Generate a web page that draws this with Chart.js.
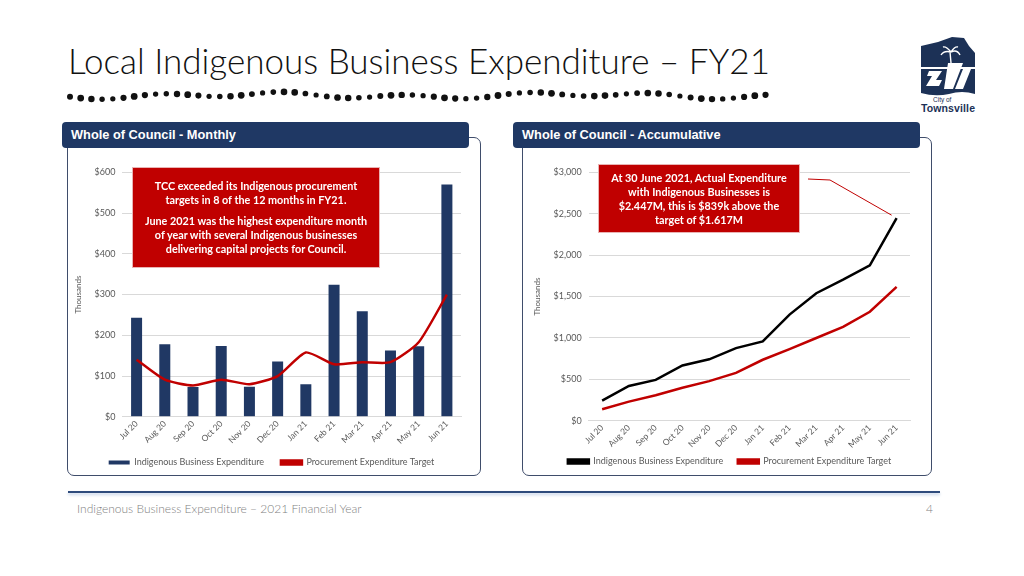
<!DOCTYPE html>
<html>
<head>
<meta charset="utf-8">
<script src="https://cdn.jsdelivr.net/npm/chart.js@4.4.0/dist/chart.umd.min.js"></script>
<style>
  body { margin:0; width:1024px; height:576px; background:#fff; position:relative; overflow:hidden; font-family:Lato, "Open Sans", sans-serif; }
  .abs { position:absolute; }
  #title { left:68px; top:39px; font-weight:300; color:#111; white-space:nowrap; }
  .panel { border:1.3px solid #3f4d6b; border-radius:7px; }
  .head { background:#1f3864; border-radius:4px; color:#fff; font:bold 12.8px "Liberation Sans", Arial, sans-serif; line-height:26px; padding-left:9px; box-sizing:border-box; height:26px; }
  .note { background:#c00000; color:#fff; font-weight:bold; font-size:10.8px; line-height:14px; text-align:center; box-sizing:border-box; box-shadow:0 0 0 1px #e9b3b3; white-space:nowrap; }
  #footline { left:68px; top:491px; width:872px; height:2px; background:#2f4b7c; box-shadow:0 2px 3px rgba(120,150,200,0.45); }
  .foot { top:501px; font-size:12px; color:#7f7f7f; font-weight:300; }
</style>
</head>
<body>
<div id="title" class="abs">Local Indigenous Business Expenditure – FY21</div>
<svg id="dots" class="abs" style="left:0;top:0" width="1024" height="120"></svg>

<svg class="abs" style="left:910px;top:30px" width="80" height="90" viewBox="910 30 80 90">
  <path d="M921,46 L938,42 L952,37 L964,38 L969,46 L975,53 L975,94 Q962,90 949,94 Q935,97 921,93 Z" fill="#1c3156"/>
  <rect x="921" y="67" width="54" height="2" fill="#fff"/>
  <path d="M929,71 L942,71 L936,80 L942,80 L939,86 L926,86 L932,76 L927,76 Z" fill="#fff"/>
  <path d="M948,63 L963,63 L953,89 L944,89 Z" fill="#fff"/>
  <path d="M963,69 L971,69 L963,89 L955,89 Z" fill="#fff"/>
  <path d="M950,52 L951,63 M951,52 Q944,50 941,55 M951,52 Q957,49 960,55 M951,52 Q946,46 943,47 M951,52 Q955,46 958,47" stroke="#fff" stroke-width="1.4" fill="none"/>
  <text x="933" y="102" font-family="Liberation Sans, Arial" font-size="6.5" fill="#1c3156">City of</text>
  <text x="921" y="112" font-family="Liberation Sans, Arial" font-size="10.5" font-weight="bold" fill="#1c3156" textLength="54">Townsville</text>
</svg>

<div class="abs panel" style="left:67px;top:137px;width:412px;height:337px"></div>
<div class="abs panel" style="left:522px;top:137px;width:408px;height:337px"></div>
<div class="abs head" style="left:62px;top:122px;width:407px">Whole of Council - Monthly</div>
<div class="abs head" style="left:513px;top:122px;width:407px">Whole of Council - Accumulative</div>

<div class="abs" style="left:66px;top:160px;width:420px;height:320px"><canvas id="monthly" width="420" height="320"></canvas></div>
<div class="abs" style="left:525px;top:160px;width:420px;height:324px"><canvas id="accum" width="420" height="324"></canvas></div>

<div id="note1" class="abs note" style="left:133px;top:168px;width:246px;height:99px;padding-top:11px">
  TCC exceeded its Indigenous procurement<br>targets in 8 of the 12 months in FY21.
  <div style="height:7px"></div>
  June 2021 was the highest expenditure month<br>of year with several Indigenous businesses<br>delivering capital projects for Council.
</div>
<div id="note2" class="abs note" style="left:599px;top:165px;width:200px;height:67px;padding-top:6px">
  At 30 June 2021, Actual Expenditure<br>with Indigenous Businesses is<br>$2.447M, this is $839k above the<br>target of $1.617M
</div>

<div id="footline" class="abs"></div>
<div class="abs foot" style="left:77px">Indigenous Business Expenditure – 2021 Financial Year</div>
<div class="abs foot" style="left:926px">4</div>

<script>
// data ($ thousands)
var months = ['Jul 20','Aug 20','Sep 20','Oct 20','Nov 20','Dec 20','Jan 21','Feb 21','Mar 21','Apr 21','May 21','Jun 21'];
var monthlyActual = [243, 178, 73, 174, 74, 136, 80, 324, 259, 163, 173, 570];
var monthlyTarget = [140, 91, 77, 91, 80, 100, 158, 129, 134, 134, 183, 300];
var accumActual = [243, 421, 494, 668, 742, 878, 958, 1282, 1541, 1704, 1877, 2447];
var accumTarget = [140, 231, 308, 399, 479, 579, 737, 866, 1000, 1134, 1317, 1617];
var seriesNames = ['Indigenous Business Expenditure', 'Procurement Expenditure Target'];

var navy = '#203864';
var red = '#c00000';
var grey = '#595959';
var gridCol = '#d9d9d9';

// title sized to the slide width
(function() {
    var t = document.getElementById('title');
    var c = document.createElement('canvas').getContext('2d');
    c.font = '300 40px Lato';
    var w = c.measureText(t.textContent).width;
    t.style.fontSize = (40 * 702 / w).toFixed(1) + 'px';
})();

// dotted underline
(function() {
    var svg = document.getElementById('dots');
    var html = '';
    for (var i = 0; i < 66; i++) {
        var x = 70 + i * 10.7;
        var y = 95.5 + 2.2 * Math.sin(i * 0.55) + 1.6 * Math.sin(i * 0.21 + 1);
        var r = 3 + 0.4 * Math.sin(i * 1.3);
        html += '<circle cx="' + x.toFixed(1) + '" cy="' + y.toFixed(1) + '" r="' + r.toFixed(2) + '" fill="#111"/>';
    }
    svg.innerHTML = html;
})();

Chart.defaults.font.family = 'Lato, "Open Sans", sans-serif';
Chart.defaults.font.size = 8;
Chart.defaults.color = grey;
Chart.defaults.animation = false;

function dollars(v) { return '$' + v.toLocaleString('en-US'); }

// nudge the legend box after layout
var legendShift = {
    id: 'legendShift',
    afterLayout: function(chart, args, opts) {
        var lg = chart.legend;
        lg.left += opts.dx || 0; lg.right += opts.dx || 0;
        lg.top += opts.dy || 0; lg.bottom += opts.dy || 0;
    }
};

function baseOptions(max, step, gapSpaces, dx, dy) {
    return {
        responsive: false,
        layout: { padding: { top: 11, right: 25, left: 4, bottom: 3 } },
        plugins: {
            legendShift: { dx: dx, dy: dy },
            legend: {
                position: 'bottom',
                labels: {
                    boxWidth: 21, boxHeight: 4, padding: 10, color: grey, font: { size: 9 },
                    sort: function(a, b) { return a.datasetIndex - b.datasetIndex; },
                    generateLabels: function(chart) {
                        var items = Chart.defaults.plugins.legend.labels.generateLabels(chart);
                        items.forEach(function(it) {
                            if (it.datasetIndex === 0) it.text = it.text + gapSpaces;
                        });
                        return items;
                    }
                }
            },
            tooltip: { enabled: false }
        },
        scales: {
            x: {
                grid: { display: false, drawTicks: false },
                border: { color: gridCol },
                ticks: { maxRotation: 45, minRotation: 45, padding: 2, color: grey, font: { size: 8.5 } }
            },
            y: {
                min: 0, max: max,
                grid: { color: gridCol, drawTicks: false },
                border: { display: false },
                ticks: { stepSize: step, padding: 7, color: grey, font: { size: 9 }, callback: dollars },
                title: { display: true, text: 'Thousands', color: grey, font: { size: 8 } }
            }
        }
    };
}

new Chart(document.getElementById('monthly'), {
    type: 'bar',
    data: {
        labels: months,
        datasets: [{
            label: seriesNames[0],
            data: monthlyActual,
            backgroundColor: navy,
            borderColor: navy,
            barPercentage: 0.39,
            categoryPercentage: 1,
            order: 1
        }, {
            type: 'line',
            label: seriesNames[1],
            data: monthlyTarget,
            borderColor: red,
            backgroundColor: red,
            borderWidth: 2.5,
            pointRadius: 0,
            tension: 0.2,
            order: 0
        }]
    },
    options: baseOptions(600, 100, '   ', 6, 0),
    plugins: [legendShift]
});

// thin callout from the note box to the last actual point
var calloutPlugin = {
    id: 'callout',
    afterDatasetsDraw: function(chart) {
        var pt = chart.getDatasetMeta(0).data[11];
        var box = document.getElementById('note2').getBoundingClientRect();
        var cv = chart.canvas.getBoundingClientRect();
        var sx = box.right - cv.left + 9, sy = box.top - cv.top + 14;
        var ctx = chart.ctx;
        ctx.save();
        ctx.strokeStyle = red;
        ctx.lineWidth = 1;
        ctx.beginPath();
        ctx.moveTo(sx, sy);
        ctx.lineTo(sx + 22, sy + 1);
        ctx.lineTo(pt.x - 5, pt.y - 3);
        ctx.stroke();
        ctx.restore();
    }
};

var accumOptions = baseOptions(3000, 500, '  ', 10, -5);
accumOptions.layout.padding.right = 35;
accumOptions.scales.x.offset = true;

new Chart(document.getElementById('accum'), {
    type: 'line',
    data: {
        labels: months,
        datasets: [{
            label: seriesNames[0],
            data: accumActual,
            borderColor: '#000',
            backgroundColor: '#000',
            borderWidth: 2.5,
            pointRadius: 0
        }, {
            label: seriesNames[1],
            data: accumTarget,
            borderColor: red,
            backgroundColor: red,
            borderWidth: 2.5,
            pointRadius: 0
        }]
    },
    options: accumOptions,
    plugins: [calloutPlugin, legendShift]
});
</script>
</body>
</html>
